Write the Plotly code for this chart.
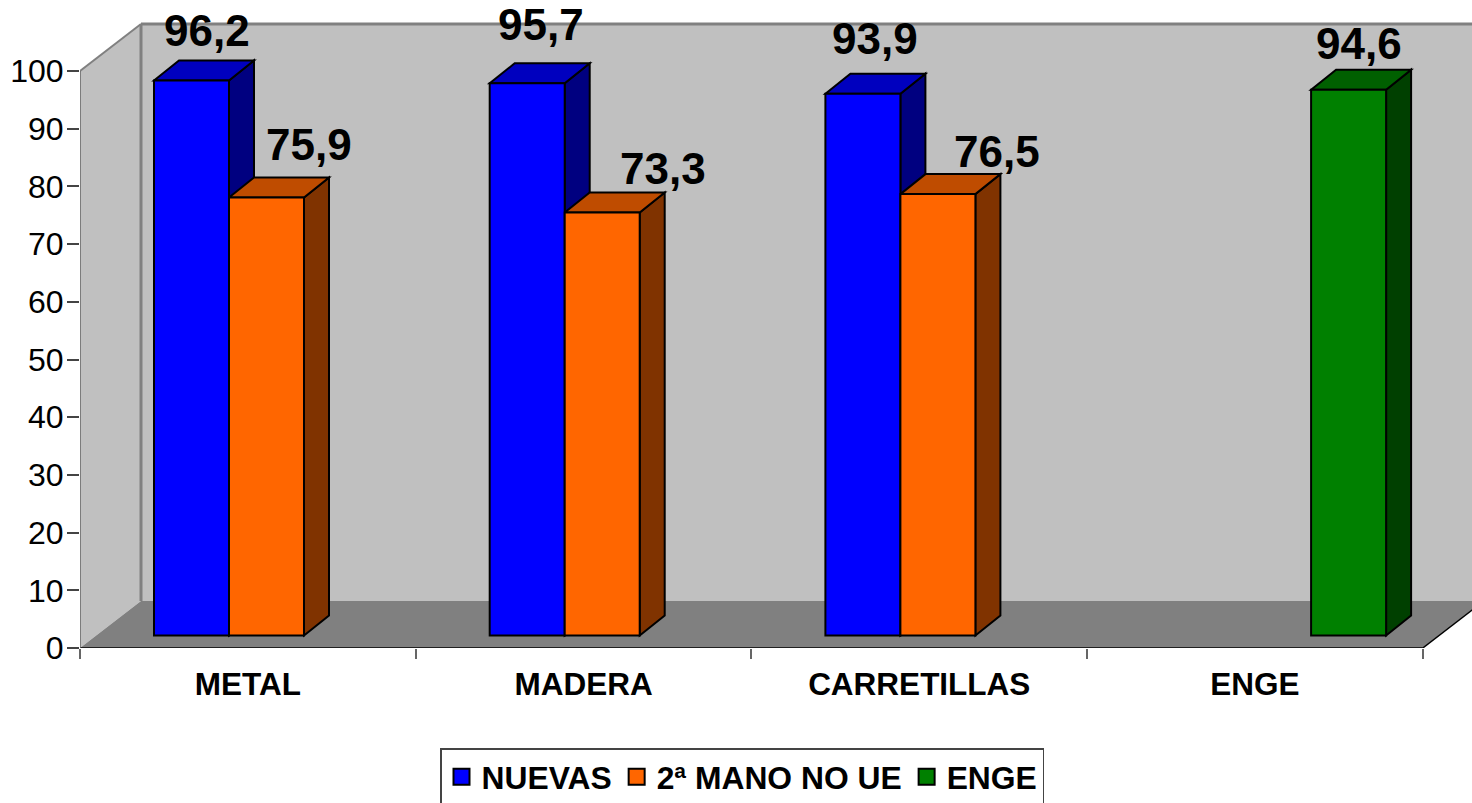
import plotly.graph_objects as go

categories = ["METAL", "MADERA", "CARRETILLAS", "ENGE"]
nuevas = [96.2, 95.7, 93.9, None]
segunda_mano = [75.9, 73.3, 76.5, None]
enge = [None, None, None, 94.6]
series_names = ["NUEVAS", "2ª MANO NO UE", "ENGE"]
y_ticks = [0, 10, 20, 30, 40, 50, 60, 70, 80, 90, 100]

FONT = "Liberation Sans, Arial, sans-serif"
W, H = 1472, 803
ML, MB = 80, 155
PX_X = 335.7   # px per category
PX_Y = 5.77    # px per value unit
PLOT_H = H - MB
X_MAX = (W - ML) / PX_X
Y_MAX = PLOT_H / PX_Y


def dx(px):
    return px / PX_X


def dy(px):
    return px / PX_Y


WALL_DX, WALL_DY = dx(61), dy(47)
BAR_W = dx(75)
BAR_DX, BAR_DY = dx(25), dy(20)
BASE = dy(12.5)
FIRST_BAR = dx(74)

styles = [
    dict(front="#0000FF", top="#0000BF", side="#000080"),
    dict(front="#FF6600", top="#BF4C00", side="#803300"),
    dict(front="#008000", top="#006000", side="#004000"),
]
# pixel nudges of the hand-placed data labels (per series, per category)
label_shift = [
    [(15, 50), (14, 59), (12, 55), None],
    [(42, 53), (61, 44), (59, 43), None],
    [None, None, None, (10, 46)],
]
all_series = [nuevas, segunda_mano, enge]


def poly(points, fill, line="black", width=2, layer="below"):
    path = "M" + " L".join(f"{x},{y}" for x, y in points) + " Z"
    return dict(type="path", path=path, xref="x", yref="y", fillcolor=fill,
                line=dict(color=line, width=width), layer=layer)


def seg(x0, y0, x1, y1, color, width, layer="below"):
    return dict(type="line", x0=x0, y0=y0, x1=x1, y1=y1, xref="x", yref="y",
                line=dict(color=color, width=width), layer=layer)


n = len(categories)
top_val = y_ticks[-1]
shapes = [
    # back wall
    poly([(WALL_DX, WALL_DY), (X_MAX + 1, WALL_DY), (X_MAX + 1, top_val + WALL_DY),
          (WALL_DX, top_val + WALL_DY)], "#C0C0C0", "#C0C0C0", 0),
    # side wall
    poly([(0, 0), (WALL_DX, WALL_DY), (WALL_DX, top_val + WALL_DY), (0, top_val)],
         "#C0C0C0", "#C0C0C0", 0),
    # floor
    poly([(0, 0), (WALL_DX, WALL_DY), (X_MAX + 1, WALL_DY), (n + WALL_DX, WALL_DY),
          (n, 0)], "#808080", "#808080", 0),
    seg(WALL_DX, WALL_DY, WALL_DX, top_val + WALL_DY, "#808080", 3),
    seg(WALL_DX, top_val + WALL_DY, X_MAX + 1, top_val + WALL_DY, "#808080", 3),
    seg(0, top_val, WALL_DX, top_val + WALL_DY, "#808080", 2),
    seg(n, 0, n + WALL_DX, WALL_DY, "#000000", 1.5),
]

fig = go.Figure()
annotations = []
for s, (values, st) in enumerate(zip(all_series, styles)):
    xs, ys = [], []
    for c, v in enumerate(values):
        if v is None:
            continue
        x0 = c + FIRST_BAR + s * BAR_W
        x1 = x0 + BAR_W
        top = BASE + v
        xs.append((x0 + x1) / 2)
        ys.append(v)
        # side face and top face
        shapes.append(poly([(x1, BASE), (x1 + BAR_DX, BASE + BAR_DY),
                            (x1 + BAR_DX, top + BAR_DY), (x1, top)], st["side"]))
        shapes.append(poly([(x0, top), (x0 + BAR_DX, top + BAR_DY),
                            (x1 + BAR_DX, top + BAR_DY), (x1, top)], st["top"]))
        sx, sy = label_shift[s][c]
        annotations.append(dict(x=(x0 + x1) / 2, y=top, xref="x", yref="y",
                                text=f"{v:.1f}".replace(".", ","), showarrow=False,
                                xshift=sx, yshift=sy, xanchor="center", yanchor="middle",
                                font=dict(family=FONT, size=44, color="black",
                                          weight="bold")))
    fig.add_trace(go.Bar(x=xs, y=ys, base=BASE, width=BAR_W, name=series_names[s],
                         marker=dict(color=st["front"], line=dict(color="black", width=2)),
                         showlegend=False, hoverinfo="skip"))
    fig.add_trace(go.Scatter(x=[None], y=[None], mode="markers", name=series_names[s],
                             marker=dict(symbol="square", size=16, color=st["front"],
                                         line=dict(color="black", width=2))))

# axis lines
shapes.append(seg(0, 0, n, 0, "#000000", 1.5, "above"))
shapes.append(seg(0, 0, 0, top_val, "#666666", 1.5, "above"))

fig.update_layout(
    width=W, height=H, autosize=False,
    margin=dict(l=ML, r=0, t=0, b=MB, pad=0, autoexpand=False),
    paper_bgcolor="white", plot_bgcolor="white",
    barmode="overlay", shapes=shapes, annotations=annotations,
    font=dict(family=FONT, color="black"),
    xaxis=dict(range=[0, X_MAX], showgrid=False, zeroline=False, showline=False,
               tickmode="array", tickvals=[i + 0.5 for i in range(n)], ticktext=categories,
               ticks="", ticklabelstandoff=14,
               tickfont=dict(family=FONT, size=31.5, color="black", weight="bold"),
               minor=dict(tickmode="array", tickvals=list(range(n + 1)), ticks="outside",
                          ticklen=10, tickwidth=1.5, tickcolor="#666666", showgrid=False)),
    yaxis=dict(range=[0, Y_MAX], showgrid=False, zeroline=False, showline=False,
               tickmode="array", tickvals=y_ticks, ticks="outside", ticklen=12,
               tickwidth=1.5, tickcolor="#444444", ticklabelstandoff=-3,
               tickfont=dict(family=FONT, size=32, color="black")),
    legend=dict(orientation="h", x=(440 - ML) / (W - ML), xanchor="left",
                y=(PLOT_H - 748) / PLOT_H, yanchor="top",
                bordercolor="#444444", borderwidth=1.5, bgcolor="white",
                font=dict(family=FONT, size=31.8, color="black", weight="bold"),
                itemclick=False, itemdoubleclick=False),
)
fig.write_html("out.html", config=dict(displayModeBar=False),
               post_script="document.body.style.margin='0';document.body.style.overflow='hidden';")
